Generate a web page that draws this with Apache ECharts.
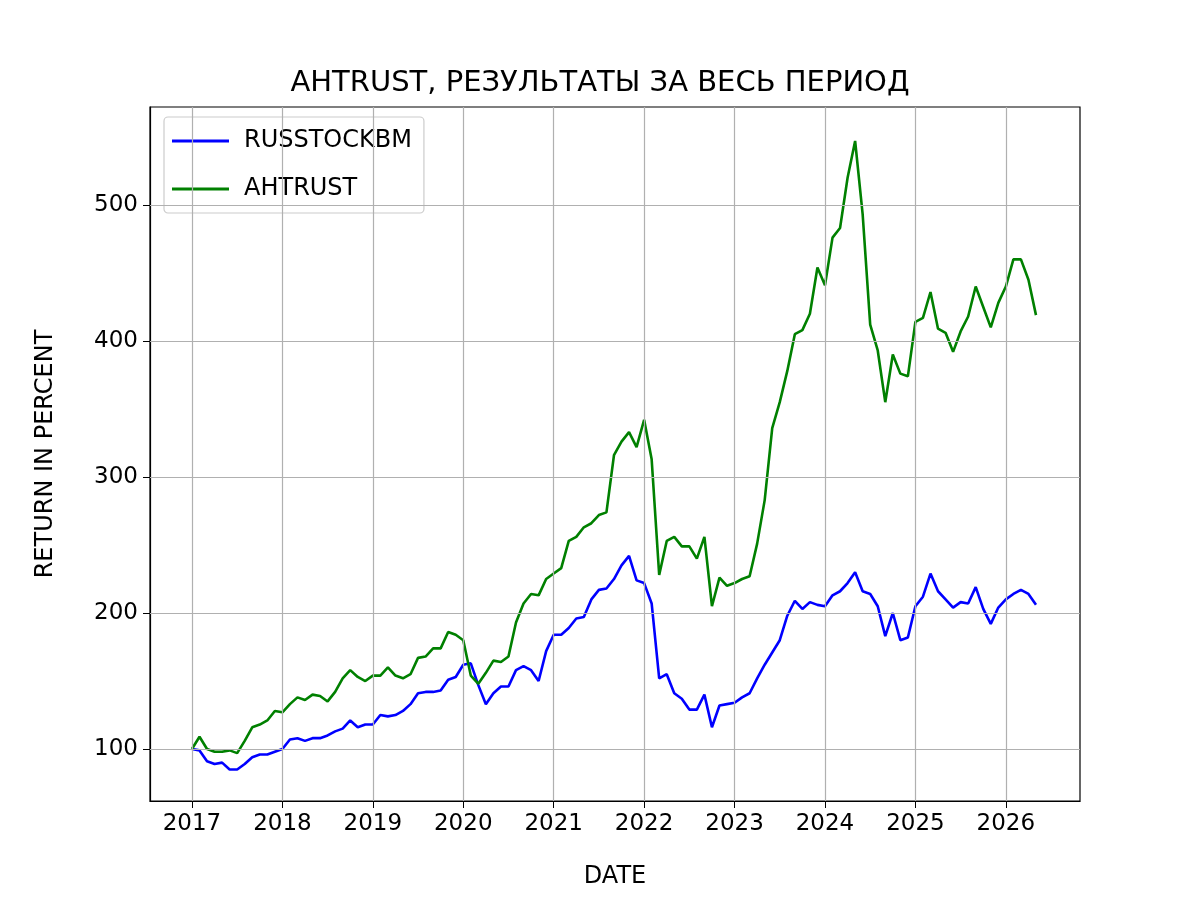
<!DOCTYPE html>
<html><head><meta charset="utf-8">
<script src="https://cdn.jsdelivr.net/npm/echarts@6/dist/echarts.min.js"></script>
<style>html,body{margin:0;background:#fff}#c{width:1200px;height:900px}</style>
</head><body><div id="c"></div>
<script>
const startYear = 2017;
const yearTicks = [2017,2018,2019,2020,2021,2022,2023,2024,2025,2026];
const valueTicks = [100,200,300,400,500];
const russtockbm = [
100,99,91,89,90,85,85,89,94,96,96,98,
100,107,108,106,108,108,110,113,115,121,116,118,
118,125,124,125,128,133,141,142,142,143,151,153,
162,163,147,133,141,146,146,158,161,158,150,172,
184,184,189,196,197,210,217,218,225,235,242,224,
222,207,152,155,141,137,129,129,140,116,132,133,
134,138,141,152,162,171,180,198,209,203,208,206,
205,213,216,222,230,216,214,205,183,200,180,182,
205,212,229,216,210,204,208,207,219,203,192,204,
210,214,217,214,206];
const ahtrust = [
100,109,100,98,98,99,97,106,116,118,121,128,
127,133,138,136,140,139,135,142,152,158,153,150,
154,154,160,154,152,155,167,168,174,174,186,184,
180,154,148,156,165,164,168,193,207,214,213,225,
229,233,253,256,263,266,272,274,316,326,333,322,
342,313,228,253,256,249,249,240,256,205,226,220,
222,225,227,251,283,336,355,378,405,408,420,454,
441,476,483,520,547,493,412,393,355,390,376,374,
414,417,436,409,406,392,407,418,440,425,410,428,
440,460,460,445,419];
const toPts = arr => arr.map((v,i)=>[startYear + i/12, v]);
const font = 'DejaVu Sans';
const chart = echarts.init(document.getElementById('c'));
const gridLine = {color:'#b0b0b0', width:1.2, type:'solid'};
chart.setOption({
  animation:false,
  backgroundColor:'#fff',
  title:{text:'AHTRUST, РЕЗУЛЬТАТЫ ЗА ВЕСЬ ПЕРИОД', left:'center', top:64,
    textStyle:{fontFamily:font, fontSize:29, fontWeight:'normal', color:'#000'}},
  grid:{left:150, right:120, top:107, bottom:99, show:true, borderColor:'#000', borderWidth:1.2, backgroundColor:'transparent'},
  legend:{left:164, top:117, orient:'vertical', itemWidth:57, itemHeight:3, itemGap:24,
    padding:[12,12,12,8], borderColor:'#ccc', borderWidth:1.2, borderRadius:4, backgroundColor:'rgba(255,255,255,0.8)',
    textStyle:{fontFamily:font, fontSize:24, color:'#000', padding:[0,0,0,10]},
    data:[{name:'RUSSTOCKBM', icon:'rect'},{name:'AHTRUST', icon:'rect'}]},
  xAxis:{type:'value', min:2016.536, max:2026.82, name:'DATE', nameLocation:'middle', nameGap:64,
    nameTextStyle:{fontFamily:font, fontSize:24, color:'#000'},
    axisLine:{show:true, lineStyle:{color:'#000', width:1.2}},
    axisTick:{show:true, inside:false, length:7, lineStyle:{color:'#000'}, customValues:yearTicks},
    axisLabel:{fontFamily:font, fontSize:23, color:'#000', margin:12, customValues:yearTicks, formatter:v=>String(Math.round(v))},
    splitLine:{show:false}},
  yAxis:{type:'value', min:61.8, max:572, name:'RETURN IN PERCENT', nameLocation:'middle', nameGap:92,
    nameTextStyle:{fontFamily:font, fontSize:24, color:'#000'},
    axisLine:{show:true, lineStyle:{color:'#000', width:1.2}},
    axisTick:{show:true, inside:false, length:7, lineStyle:{color:'#000'}, customValues:valueTicks},
    axisLabel:{fontFamily:font, fontSize:23, color:'#000', margin:12, customValues:valueTicks},
    splitLine:{show:false}},
  series:[
    {type:'line', name:'grid', data:[], silent:true, z:1,
     markLine:{silent:true, symbol:'none', label:{show:false}, lineStyle:gridLine,
       data:[...yearTicks.map(x=>({xAxis:x})), ...valueTicks.map(y=>({yAxis:y}))]}},
    {type:'line', name:'RUSSTOCKBM', data:toPts(russtockbm), showSymbol:false, z:3,
     lineStyle:{color:'#0000ff', width:2.6}, itemStyle:{color:'#0000ff'}},
    {type:'line', name:'AHTRUST', data:toPts(ahtrust), showSymbol:false, z:3,
     lineStyle:{color:'#008000', width:2.6}, itemStyle:{color:'#008000'}}
  ]
});
</script></body></html>
